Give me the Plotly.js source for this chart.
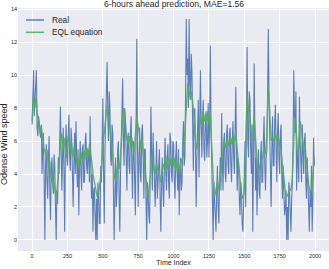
<!DOCTYPE html>
<html>
<head>
<meta charset="utf-8">
<script src="https://cdn.plot.ly/plotly-3.0.1.min.js"></script>
<style>
html,body{margin:0;padding:0;background:#ffffff;}
#chart{width:329px;height:269px;}
</style>
</head>
<body>
<div id="chart"></div>
<script>
const titleText = "6-hours ahead prediction, MAE=1.56";
const xLabel = "Time Index";
const yLabel = "Odense Wind speed";
const seriesNames = ["Real", "EQL equation"];
const xTicks = [0, 250, 500, 750, 1000, 1250, 1500, 1750, 2000];
const yTicks = [0, 2, 4, 6, 8, 10, 12, 14];

// time index, sampled every 5 steps
const timeIndex = [];
for (let i = 0; i < 400; i++) timeIndex.push(i * 5);

const realValues = [
  7.0,8.5, 10.3,7.5, 8.2,9.3, 10.3,6.8, 6.3,7.5, 7.2,6.5, 6.2,7.0, 4.0,5.5, 6.5,3.5, 0.0,4.5,
  5.8,3.5, 2.5,4.8, 6.3,3.0, 1.2,4.2, 5.0,3.5, 2.8,5.2, 4.5,2.0, 0.0,3.0, 2.2,5.0, 4.0,6.0,
  8.1,5.5, 3.0,5.0, 6.8,4.2, 0.5,5.5, 7.0,5.0, 4.5,6.5, 7.6,5.0, 4.2,6.8, 6.0,4.0, 2.0,4.5,
  6.5,4.0, 7.2,5.0, 3.2,5.5, 1.5,4.5, 6.0,4.0, 3.0,5.5, 5.8,3.5, 3.5,6.0, 6.5,4.5, 4.0,5.5,
  5.0,3.5, 7.5,4.5, 2.5,4.0, 0.5,3.0, 3.2,1.5, 0.0,2.5, 0.0,3.5, 2.8,1.0, 1.0,4.5, 3.5,6.0,
  8.6,4.0, 1.0,5.5, 7.0,9.0, 10.8,7.5, 6.0,9.0, 8.0,5.0, 4.5,7.0, 6.5,3.0, 0.0,2.5, 5.0,2.0,
  3.0,5.5, 6.0,2.5, 0.5,4.0, 5.5,7.0, 9.8,6.0, 4.5,8.0, 7.2,5.0, 3.0,6.0, 6.5,4.5, 4.0,6.5,
  7.5,4.5, 2.5,6.0, 5.5,3.5, 1.5,7.0, 12.2,5.5, 2.0,5.0, 6.8,4.0, 3.5,6.5, 7.0,5.0, 2.5,5.5,
  5.5,2.5, 0.0,3.5, 3.0,1.5, 1.0,4.0, 8.1,5.0, 3.0,6.5, 5.5,3.5, 2.0,5.0, 6.0,2.5, 3.5,5.5,
  5.5,2.5, 0.5,3.5, 5.0,3.0, 2.0,4.5, 6.2,4.0, 3.0,5.0, 5.8,3.5, 2.5,6.5, 6.0,4.0, 3.5,6.0,
  5.8,3.5, 2.5,5.0, 6.0,4.0, 3.0,5.5, 1.5,4.0, 5.0,3.0, 3.5,6.0, 7.2,4.5, 5.0,9.0, 13.4,10.0,
  11.0,8.0, 13.4,9.5, 8.5,11.3, 10.2,7.0, 4.2,7.5, 8.0,5.5, 2.0,5.0, 6.5,8.5, 3.8,6.0, 10.3,7.0,
  5.0,7.5, 8.5,5.5, 4.8,7.0, 7.8,5.0, 6.0,8.3, 5.0,7.0, 11.8,7.0, 4.0,2.0, 0.0,3.5, 2.5,1.0,
  0.5,3.0, 4.5,2.0, 1.0,3.5, 5.0,3.0, 7.7,4.5, 3.0,6.0, 6.5,4.0, 3.5,6.5, 7.0,4.5, 4.0,6.5,
  6.8,4.5, 3.5,6.0, 7.2,5.0, 4.0,6.5, 9.3,5.5, 3.0,5.0, 4.5,2.5, 1.5,3.5, 3.0,1.0, 0.5,2.0,
  3.5,6.0, 2.0,8.0, 11.7,6.0, 5.0,9.0, 8.5,5.5, 4.0,7.0, 0.5,4.5, 10.7,6.5, 3.0,5.0, 1.5,4.0,
  5.5,3.0, 2.5,5.0, 6.0,3.5, 3.5,6.0, 7.5,4.5, 3.0,5.0, 5.5,9.0, 12.8,8.5, 6.0,4.0, 2.0,5.5,
  7.5,4.5, 4.5,7.0, 8.2,5.5, 3.5,6.5, 7.7,5.0, 4.0,6.5, 7.0,4.0, 2.5,4.5, 3.5,1.5, 2.0,3.0,
  0.0,2.0, 0.0,3.5, 3.0,1.0, 0.5,2.5, 3.5,6.0, 10.3,7.5, 6.5,9.0, 3.0,5.5, 5.0,3.5, 8.7,6.0,
  5.0,3.5, 7.0,4.5, 4.0,6.0, 6.5,3.5, 2.5,5.0, 3.5,1.5, 0.5,3.0, 2.0,4.5, 0.5,2.5, 6.2,4.5
];

const eqlValues = [
  7.2,8.0, 8.8,8.2, 8.0,8.6, 8.5,7.8, 7.5,7.2, 7.0,6.5, 6.8,6.9, 6.5,6.0, 5.8,5.4, 5.5,5.3,
  5.0,5.5, 4.8,4.4, 4.5,4.8, 4.0,3.7, 3.5,3.9, 3.2,3.5, 3.0,2.8, 2.6,2.9, 3.2,3.8, 4.5,5.2,
  6.0,6.5, 6.3,5.8, 5.5,6.2, 6.0,5.4, 5.0,5.5, 5.8,6.3, 6.2,5.7, 5.5,6.0, 5.8,5.2, 5.0,5.6,
  5.5,5.0, 5.2,4.8, 4.5,4.9, 4.3,4.6, 4.8,5.3, 5.2,4.7, 4.8,5.4, 5.3,4.9, 5.0,5.6, 5.5,5.0,
  5.2,5.8, 5.5,5.1, 5.0,4.5, 4.0,3.8, 3.5,3.2, 3.0,2.9, 2.6,3.0, 2.8,3.2, 3.5,3.9, 4.2,5.0,
  5.8,6.2, 6.5,7.0, 7.2,7.8, 8.2,7.6, 7.5,7.2, 6.8,6.2, 6.0,5.8, 5.2,4.6, 4.0,3.6, 3.5,3.9,
  4.2,4.6, 4.8,4.3, 4.5,5.2, 6.0,6.8, 7.5,7.8, 8.0,7.4, 7.0,6.5, 6.0,6.3, 5.8,6.2, 6.3,5.8,
  5.5,6.2, 6.0,5.6, 5.2,5.7, 6.0,6.8, 7.5,7.2, 7.0,6.6, 6.2,5.8, 5.5,6.2, 5.8,5.4, 5.0,4.6,
  4.0,3.5, 3.0,2.7, 2.5,2.9, 3.2,3.8, 4.5,5.2, 5.0,4.6, 4.5,4.2, 4.0,4.5, 4.6,4.3, 4.2,4.0,
  4.0,3.7, 3.5,3.9, 4.2,4.6, 4.5,4.3, 4.8,5.1, 4.5,4.3, 4.8,5.0, 5.0,4.7, 4.5,4.9, 4.8,4.4,
  4.7,5.0, 4.5,4.2, 4.8,4.5, 4.3,4.6, 4.0,4.3, 4.5,4.9, 4.8,5.0, 5.2,5.8, 6.5,7.3, 8.2,8.9,
  9.5,9.2, 9.0,8.6, 8.5,9.0, 8.8,8.3, 8.0,7.5, 7.0,6.3, 5.5,5.6, 5.8,6.2, 6.5,7.0, 7.5,7.2,
  7.0,7.4, 7.8,7.3, 7.2,7.6, 7.6,7.2, 7.8,7.5, 7.0,7.4, 7.5,6.5, 5.5,4.5, 3.5,3.0, 2.6,2.8,
  3.0,3.3, 3.5,3.1, 3.2,3.6, 3.8,4.4, 5.0,5.3, 5.5,5.8, 6.0,5.7, 5.6,5.9, 6.2,5.9, 5.7,5.9,
  6.0,6.2, 5.8,6.0, 6.2,5.9, 6.0,6.3, 6.5,6.0, 5.5,5.0, 4.5,4.0, 3.5,3.1, 2.8,2.6, 2.5,2.7,
  3.0,4.2, 5.5,7.2, 8.8,8.3, 8.0,7.8, 7.5,7.0, 6.5,6.2, 6.0,6.8, 7.5,6.8, 6.0,5.2, 4.5,4.2,
  4.0,4.3, 4.5,4.7, 4.8,4.9, 5.0,5.3, 5.5,5.3, 5.2,5.8, 6.5,8.0, 9.4,8.7, 8.0,7.0, 6.0,6.1,
  6.2,6.1, 6.0,6.3, 6.5,6.2, 6.0,6.2, 6.3,6.0, 5.8,5.7, 5.5,5.0, 4.5,4.2, 3.8,3.4, 3.0,2.8,
  2.6,2.7, 2.8,2.9, 3.0,3.1, 3.0,3.4, 3.8,5.0, 6.5,7.0, 7.4,6.7, 6.0,5.5, 5.0,5.8, 6.8,7.2,
  7.0,6.6, 6.2,5.8, 5.5,5.7, 5.8,5.2, 4.5,4.2, 3.8,3.4, 3.0,2.9, 2.9,3.0, 3.2,3.9, 4.7,5.0
];

const textColor = "#262626";
const fontFamily = "'Liberation Sans', Arial, 'DejaVu Sans', sans-serif";
const colors = ["#4C72B0", "#55A868"];

const traces = [
  {
    x: timeIndex, y: realValues, name: seriesNames[0], type: "scatter", mode: "lines",
    line: {color: colors[0], width: 1.1}, opacity: 0.9, showlegend: false
  },
  {
    x: timeIndex, y: eqlValues, name: seriesNames[1], type: "scatter", mode: "lines",
    line: {color: colors[1], width: 1.4}, opacity: 0.9, showlegend: false
  }
];

// manual legend (compact, like matplotlib's)
const legendY = [0.9506, 0.900];
const shapes = seriesNames.map((n, k) => ({
  type: "line", xref: "paper", yref: "paper",
  x0: 0.0257, x1: 0.0836, y0: legendY[k], y1: legendY[k],
  line: {color: colors[k], width: 1.5}, opacity: 0.9
}));
const annotations = seriesNames.map((n, k) => ({
  text: n, xref: "paper", yref: "paper", x: 0.1029, y: legendY[k],
  xanchor: "left", yanchor: "middle", showarrow: false,
  font: {size: 8.3, color: textColor, family: fontFamily}
}));
// y-axis label, placed where the reference shows it
annotations.push({
  text: yLabel, xref: "paper", yref: "paper", x: -0.045, y: 0.44,
  xanchor: "center", yanchor: "middle", textangle: -90, showarrow: false,
  font: {size: 9, color: textColor, family: fontFamily}
});

const layout = {
  width: 329, height: 269,
  margin: {l: 18, r: 0, t: 8, b: 18, pad: 0},
  paper_bgcolor: "#ffffff",
  plot_bgcolor: "#EAEAF2",
  font: {family: fontFamily, color: textColor, size: 6},
  title: {
    text: titleText, font: {size: 8.6, color: textColor, family: fontFamily},
    x: 0.529, xref: "container", xanchor: "center",
    y: 0.998, yref: "container", yanchor: "top", pad: {t: 0, b: 0}
  },
  xaxis: {
    range: [-100, 2099], tickvals: xTicks, ticktext: xTicks.map(String),
    showgrid: true, gridcolor: "#ffffff", gridwidth: 1, zeroline: false,
    showline: false, ticks: "", tickfont: {size: 5.5, color: textColor},
    title: {text: xLabel, font: {size: 7, color: textColor}, standoff: 2}
  },
  yaxis: {
    range: [-0.67, 14.07], tickvals: yTicks, ticktext: yTicks.map(String),
    showgrid: true, gridcolor: "#ffffff", gridwidth: 1, zeroline: false,
    showline: false, ticks: "", tickfont: {size: 5.5, color: textColor}
  },
  showlegend: false,
  shapes: shapes,
  annotations: annotations
};

Plotly.newPlot("chart", traces, layout, {displayModeBar: false, staticPlot: true});
</script>
</body>
</html>
